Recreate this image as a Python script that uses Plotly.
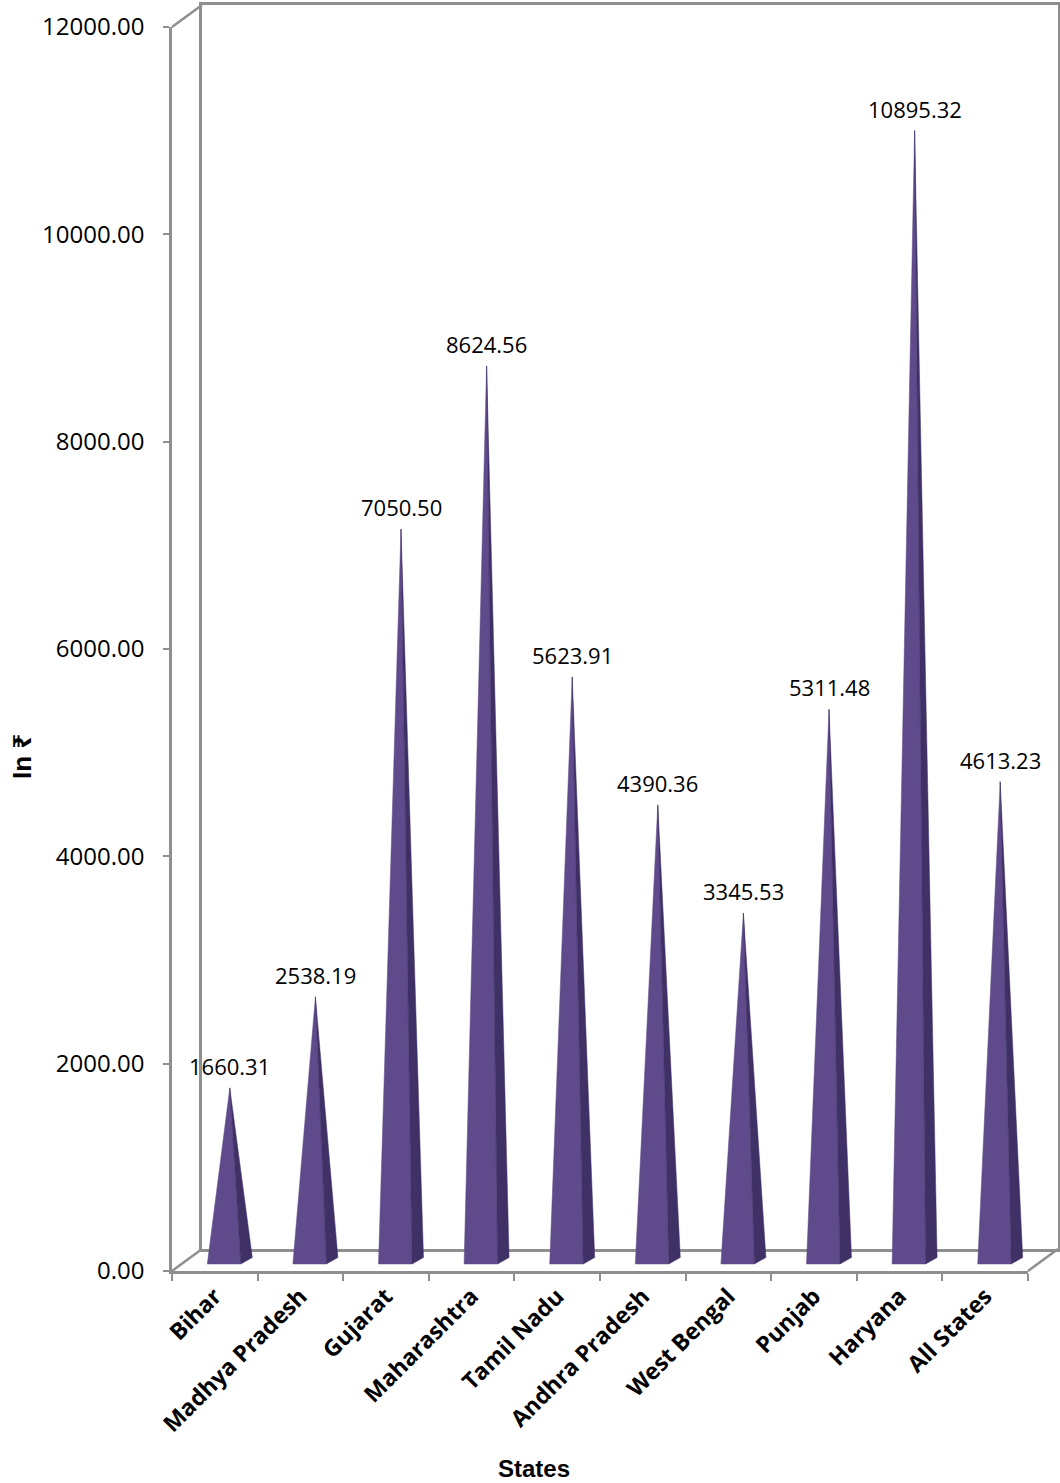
import plotly.graph_objects as go

# Average value per state (In ₹)
states = ["Bihar", "Madhya Pradesh", "Gujarat", "Maharashtra", "Tamil Nadu",
          "Andhra Pradesh", "West Bengal", "Punjab", "Haryana", "All States"]
values = [1660.31, 2538.19, 7050.50, 8624.56, 5623.91,
          4390.36, 3345.53, 5311.48, 10895.32, 4613.23]
y_ticks = [0, 2000, 4000, 6000, 8000, 10000, 12000]

W, H = 1060, 1483

# front plane of the 3-D box (pixels)
FX0, FX1 = 172, 1028
FY_TOP, FY_BOT = 27, 1271
# depth offset of the back wall (pixels)
DX, DY = 30, 22

Y_MAX = 12000
n = len(states)
kx = n / (FX1 - FX0)            # x data units per pixel
ky = Y_MAX / (FY_BOT - FY_TOP)  # y data units per pixel

FRONT = "#5F4B8B"
SIDE = "#3F3166"
FRAME = "#8F8F8F"

fig = go.Figure()

# back wall box (drawn first so the pyramids sit in front of it)
fig.add_trace(go.Scatter(x=[None], y=[None], xaxis="x", yaxis="y",
                         showlegend=False, hoverinfo="skip"))

# pyramids: front face and darker right-hand face
fx, fy, sx, sy = [], [], [], []
for i, v in enumerate(values):
    left = i + (-7.5) * kx
    right = i + 26 * kx
    base = 7 * ky
    back_x = right + 11.5 * kx
    back_y = base + 6.5 * ky
    apex_x = i + 15 * kx
    apex_y = v + 11 * ky
    fx += [left, right, apex_x, left, None]
    fy += [base, base, apex_y, base, None]
    sx += [right, back_x, apex_x, right, None]
    sy += [base, back_y, apex_y, base, None]

fig.add_trace(go.Scatter(x=fx, y=fy, mode="lines", fill="toself",
                         fillcolor=FRONT, line=dict(color=FRONT, width=0.5),
                         xaxis="x2", yaxis="y2", showlegend=False, hoverinfo="skip"))
fig.add_trace(go.Scatter(x=sx, y=sy, mode="lines", fill="toself",
                         fillcolor=SIDE, line=dict(color=SIDE, width=0.5),
                         xaxis="x2", yaxis="y2", showlegend=False, hoverinfo="skip"))

# value labels above each apex
for i, v in enumerate(values):
    fig.add_annotation(x=i + 15 * kx, y=v + 11 * ky, xref="x2", yref="y2",
                       text=f"{v:.2f}", showarrow=False, yshift=22,
                       xanchor="center", yanchor="middle",
                       font=dict(family="Open Sans", size=22, color="#000000"))


def px(x):
    return x / W


def py(y):
    return (H - y) / H


fig.update_layout(
    width=W, height=H,
    margin=dict(l=0, r=0, t=0, b=0),
    paper_bgcolor="white", plot_bgcolor="rgba(0,0,0,0)",
    showlegend=False,
    xaxis=dict(domain=[px(FX0 + DX), px(FX1 + DX)], anchor="y",
               range=[0, 1], showline=True, mirror=True, linecolor=FRAME,
               linewidth=2.5, showgrid=False, zeroline=False,
               showticklabels=False, ticks="", automargin=False),
    yaxis=dict(domain=[py(FY_BOT - DY), py(FY_TOP - DY)], anchor="x",
               range=[0, 1], showline=True, mirror=True, linecolor=FRAME,
               linewidth=2.5, showgrid=False, zeroline=False,
               showticklabels=False, ticks="", automargin=False),
    xaxis2=dict(domain=[px(FX0), px(FX1)], anchor="y2",
                range=[-0.5, n - 0.5], showline=True, linecolor=FRAME,
                linewidth=2.5, showgrid=False, zeroline=False,
                tickmode="array", tickvals=list(range(n)), ticktext=states,
                tickangle=-45, ticks="", automargin=False,
                tickfont=dict(family="Open Sans", size=23, color="#000000",
                              weight="bold"),
                minor=dict(tickmode="linear", tick0=-0.5, dtick=1,
                           ticks="outside", ticklen=7, tickwidth=2,
                           tickcolor=FRAME, showgrid=False)),
    yaxis2=dict(domain=[py(FY_BOT), py(FY_TOP)], anchor="x2",
                range=[0, Y_MAX], showline=True, linecolor=FRAME,
                linewidth=2.5, showgrid=False, zeroline=False,
                tickmode="array", tickvals=y_ticks,
                ticktext=[f"{t:.2f}" for t in y_ticks],
                ticks="outside", ticklen=6, tickwidth=2, tickcolor=FRAME,
                ticklabelstandoff=14, automargin=False,
                tickfont=dict(family="Open Sans", size=24, color="#000000")),
)

# the receding edges joining the front axes to the back wall
for (x0, y0) in [(FX0, FY_TOP), (FX0, FY_BOT), (FX1, FY_BOT)]:
    fig.add_shape(type="line", xref="paper", yref="paper",
                  x0=px(x0), y0=py(y0), x1=px(x0 + DX), y1=py(y0 - DY),
                  line=dict(color=FRAME, width=2.5), layer="below")

# axis titles
fig.add_annotation(x=px(534), y=py(1468), xref="paper", yref="paper",
                   text="<b>States</b>", showarrow=False,
                   xanchor="center", yanchor="middle",
                   font=dict(family="Liberation Sans, Arial", size=24,
                             color="#000000"))
fig.add_annotation(x=px(22), y=py(757), xref="paper", yref="paper",
                   text="<b>In ₹</b>", textangle=-90, showarrow=False,
                   xanchor="center", yanchor="middle",
                   font=dict(family="Liberation Sans, Arial, Noto Sans", size=26,
                             color="#000000"))

fig.write_html("out.html")
